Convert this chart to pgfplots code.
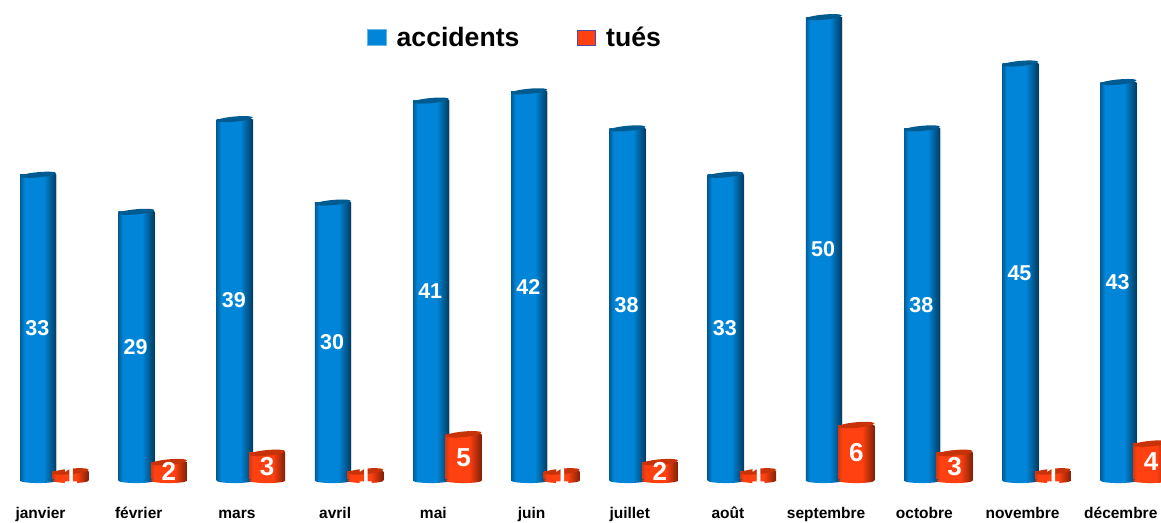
\documentclass[border=0pt]{standalone}
\usepackage{fontspec}
\setmainfont{Liberation Sans}
\usepackage{pgfplots}
\usepackage{pgfplotstable}
\pgfplotsset{compat=1.18}

\definecolor{acc}{HTML}{0085D8}
\definecolor{acctop}{HTML}{005C90}
\definecolor{tue}{HTML}{FF4010}
\definecolor{tuetop}{HTML}{C83208}

\pgfdeclarehorizontalshading{acccyl}{100bp}{color(0bp)=(acc!70!black); color(25bp)=(acc!70!black); color(31bp)=(acc); color(58bp)=(acc); color(75bp)=(acc!45!black); color(100bp)=(acc!45!black)}
\pgfdeclarehorizontalshading{tuecyl}{100bp}{color(0bp)=(tue!85!black); color(25bp)=(tue!85!black); color(30bp)=(tue); color(58bp)=(tue); color(75bp)=(tue!50!black); color(100bp)=(tue!50!black)}

% lid and foot of the cylinders
\pgfdeclareplotmark{acctopmark}{\pgfpathellipse{\pgfpointorigin}{\pgfqpoint{18pt}{1.6pt}}{\pgfqpoint{0pt}{2.6pt}}\pgfsetfillcolor{acctop}\pgfusepath{fill}}
\pgfdeclareplotmark{tuetopmark}{\pgfpathellipse{\pgfpointorigin}{\pgfqpoint{18pt}{1.6pt}}{\pgfqpoint{0pt}{2.8pt}}\pgfsetfillcolor{tuetop}\pgfusepath{fill}}
\pgfdeclareplotmark{accfoot}{\pgfpathellipse{\pgfpointorigin}{\pgfqpoint{18pt}{0pt}}{\pgfqpoint{0pt}{2.4pt}}\pgfshadepath{acccyl}{0}\pgfusepath{discard}}
\pgfdeclareplotmark{tuefoot}{\pgfpathellipse{\pgfpointorigin}{\pgfqpoint{18pt}{0pt}}{\pgfqpoint{0pt}{2.4pt}}\pgfshadepath{tuecyl}{0}\pgfusepath{discard}}

\pgfplotsset{
  accleg/.style={legend image code/.code={\path[draw=acc!60!white, fill=acc, line width=0.5pt] (0pt,-7.5pt) rectangle (19pt,8pt);}},
  tueleg/.style={legend image code/.code={\path[draw=blue!50!black!70!white, fill=tue, line width=0.8pt] (0pt,-7.5pt) rectangle (18pt,7pt);}},
}

\pgfplotstableread{
x acc tue
0 33 1
1 29 2
2 39 3
3 30 1
4 41 5
5 42 1
6 38 2
7 33 1
8 50 6
9 38 3
10 45 1
11 43 4
}\datatable

\begin{document}
\begin{tikzpicture}
\begin{axis}[
  name=ax,
  scale only axis, width=1161pt, height=522pt,
  xmin=-0.389, xmax=11.433, ymin=-4.46, ymax=51.85,
  axis line style={draw=none}, major tick length=0pt,
  ytick=\empty,
  xtick={0,...,11},
  xticklabels={janvier,février,mars,avril,mai,juin,juillet,août,septembre,octobre,novembre,décembre},
  x tick label style={anchor=base, yshift=4pt, xshift=2.3pt, inner sep=0pt, font=\fontsize{15.5}{15.5}\selectfont\bfseries},
  /pgf/number format/assume math mode=true,
  legend columns=2,
  legend cell align=left,
  legend style={at={(367/1161,1-25/522)}, anchor=north west, draw=none, fill=none, inner sep=0pt,
    font=\fontsize{26.6}{30}\selectfont\bfseries,
    /tikz/every odd column/.append style={column sep=8pt},
    /tikz/every even column/.append style={column sep=56pt}},
  nodes near coords style={text=white, anchor=center, inner sep=0pt},
]
% faint shadow on the right of the blue bars
\addplot[ybar, bar shift=1pt, bar width=36pt, draw=none, fill=black!15, forget plot] table[x=x, y=acc] {\datatable};
% blue cylinders, one plot per bar so each gets its own shading
\pgfplotsinvokeforeach{0,...,11}{
  \addplot[ybar, bar shift=0pt, bar width=36pt, draw=none, shading=acccyl, forget plot, restrict x to domain=#1:#1] table[x=x, y=acc] {\datatable};
}
\addplot[only marks, mark=accfoot, forget plot] table[x=x, y expr=0] {\datatable};
\addplot[only marks, mark=acctopmark, forget plot] table[x=x, y=acc] {\datatable};
% red cylinders
\pgfplotsinvokeforeach{0,...,11}{
  \addplot[ybar, bar shift=32.5pt, bar width=36pt, draw=none, shading=tuecyl, forget plot, restrict x to domain=#1:#1] table[x=x, y=tue] {\datatable};
}
\addplot[only marks, mark=tuefoot, forget plot] table[x expr=\thisrow{x}+0.331, y expr=0] {\datatable};
\addplot[only marks, mark=tuetopmark, forget plot] table[x expr=\thisrow{x}+0.331, y=tue] {\datatable};
% value labels
\addplot[draw=none, mark=none, forget plot, point meta=explicit, nodes near coords, every node near coord/.append style={font=\fontsize{21.5}{21.5}\selectfont\bfseries}] table[x expr=\thisrow{x}-0.008, y expr=\thisrow{acc}/2-0.07, meta=acc] {\datatable};
\addplot[draw=none, mark=none, forget plot, point meta=explicit, nodes near coords, every node near coord/.append style={font=\fontsize{26}{26}\selectfont\bfseries}] table[x expr=\thisrow{x}+0.331, y expr=\thisrow{tue}/2+0.03, meta=tue] {\datatable};
% legend
\addlegendimage{accleg}
\addlegendentry{accidents}
\addlegendimage{tueleg}
\addlegendentry{tués}
\end{axis}
\pgfresetboundingbox
\useasboundingbox (ax.south west) rectangle (ax.north east);
\end{tikzpicture}
\end{document}
